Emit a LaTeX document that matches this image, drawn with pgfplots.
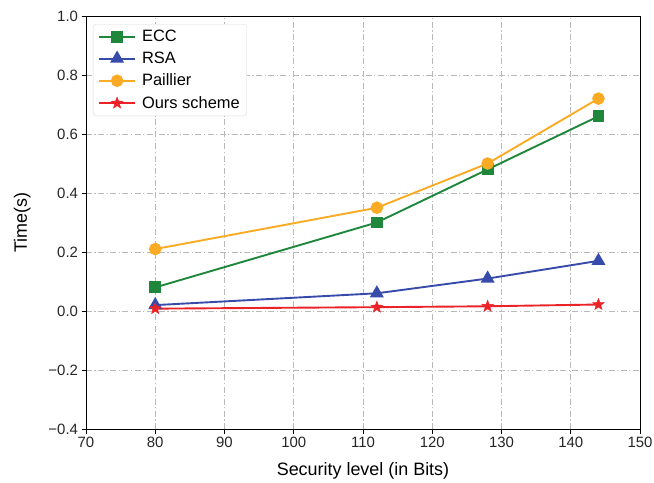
\documentclass[border=0pt]{standalone}
\usepackage{fontspec}
\setmainfont{Liberation Sans}
\usepackage{pgfplots}
\pgfplotsset{compat=1.18}
\definecolor{cecc}{RGB}{30,135,60}
\definecolor{crsa}{RGB}{55,75,170}
\definecolor{cpai}{RGB}{250,170,35}
\definecolor{cour}{RGB}{235,35,40}
\pgfdeclareplotmark{fstar}{%
  \pgfpathmoveto{\pgfpointpolar{90}{\pgfplotmarksize}}%
  \pgfpathlineto{\pgfpointpolar{126}{0.42\pgfplotmarksize}}%
  \pgfpathlineto{\pgfpointpolar{162}{\pgfplotmarksize}}%
  \pgfpathlineto{\pgfpointpolar{198}{0.42\pgfplotmarksize}}%
  \pgfpathlineto{\pgfpointpolar{234}{\pgfplotmarksize}}%
  \pgfpathlineto{\pgfpointpolar{270}{0.42\pgfplotmarksize}}%
  \pgfpathlineto{\pgfpointpolar{306}{\pgfplotmarksize}}%
  \pgfpathlineto{\pgfpointpolar{342}{0.42\pgfplotmarksize}}%
  \pgfpathlineto{\pgfpointpolar{18}{\pgfplotmarksize}}%
  \pgfpathlineto{\pgfpointpolar{54}{0.42\pgfplotmarksize}}%
  \pgfpathclose
  \pgfusepathqfillstroke
}
\begin{document}
\begin{tikzpicture}
\begin{axis}[
  scale only axis,
  width=554bp, height=413bp,
  xmin=70, xmax=150, ymin=-0.4, ymax=1.0,
  xtick={70,80,...,150},
  ytick={-0.4,-0.2,0,0.2,0.4,0.6,0.8,1.0},
  yticklabels={−0.4,−0.2,0.0,0.2,0.4,0.6,0.8,1.0},
  /pgf/number format/assume math mode=true,
  ticklabel style={font=\fontsize{15}{18}\selectfont, text=black!85},
  label style={font=\fontsize{18}{21}\selectfont},
  tick align=outside, tick pos=left,
  major tick length=4.5bp,
  tick style={black, line width=0.8pt},
  axis line style={line width=0.8pt},
  grid=major,
  major grid style={gray!55, line width=0.6pt, dash pattern=on 6pt off 2.5pt on 1.2pt off 2.5pt},
  xlabel={Security level (in Bits)},
  ylabel={Time(s)},
  xlabel style={yshift=-8pt},
  ylabel style={yshift=11pt},
  legend style={font=\fontsize{16.5}{19}\selectfont, draw=gray!30, rounded corners=3pt, row sep=5pt, inner xsep=5pt, inner ysep=4pt, at={(0.0126,0.9806)}, anchor=north west, cells={anchor=west}, /tikz/every odd column/.append style={column sep=4bp}},
  legend image code/.code={\draw[mark repeat=2,mark phase=2] plot coordinates {(0bp,0bp) (18bp,0bp) (36bp,0bp)};},
  every axis plot/.append style={line width=1.9pt},
]
\addplot[cecc, mark=square*, mark size=5bp] coordinates {(80,0.08) (112,0.30) (128,0.48) (144,0.66)};
\addlegendentry{ECC}
\addplot[crsa, mark=triangle*, mark size=6.2bp] coordinates {(80,0.02) (112,0.06) (128,0.11) (144,0.17)};
\addlegendentry{RSA}
\addplot[cpai, mark=*, mark size=5.3bp] coordinates {(80,0.21) (112,0.35) (128,0.50) (144,0.72)};
\addlegendentry{Paillier}
\addplot[cour, mark=fstar, mark size=6bp, mark options={fill=cour, line width=0.5pt}] coordinates {(80,0.008) (112,0.013) (128,0.016) (144,0.022)};
\addlegendentry{Ours scheme}
\end{axis}
\pgfresetboundingbox
\path[use as bounding box] ([shift={(-86bp,-53bp)}]current axis.south west) rectangle ([shift={(14bp,16bp)}]current axis.north east);
\end{tikzpicture}
\end{document}
